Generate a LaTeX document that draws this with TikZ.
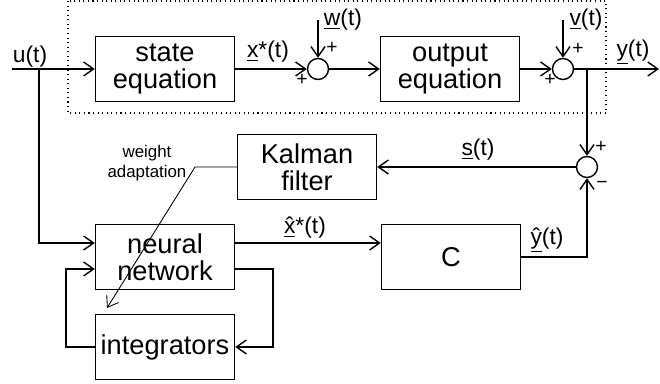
\documentclass[tikz,border=0pt]{standalone}
\usepackage{fontspec}
\setmainfont{Liberation Sans}
\usetikzlibrary{arrows.meta}

\begin{document}
\begin{tikzpicture}[x=0.02cm, y=-0.02cm, line width=0.8pt,
		>={Straight Barb[length=0.2cm,width=0.28cm]},
		block/.style={draw, minimum width=2.78cm, minimum height=1.3cm, inner sep=1pt, align=center, font=\fontsize{15.5}{15.5}\selectfont},
		sum/.style={draw, circle, minimum size=0.42cm, inner sep=0pt},
		lab/.style={font=\fontsize{13}{15}\selectfont, inner sep=1pt},
		sgn/.style={font=\fontsize{11}{11}\selectfont, inner sep=0pt}]
			\useasboundingbox (0,0) rectangle (660,384);

			% plant
			\draw[dotted, line width=0.6pt] (68,1) rectangle (606,113);

			% blocks
			\node[block] (state) at (165,69) {state\\equation};
			\node[block] (output) at (450,69) {output\\equation};
			\node[block] (kalman) at (307,167) {Kalman\\filter};
			\node[block] (neural) at (165,257) {neural\\network};
			\node[block] (C) at (451,257) {C};
			\node[block] (integ) at (165,347) {integrators};

			% sums
			\node[sum] (sum1) at (318,69) {};
			\node[sum] (sum2) at (563,69) {};
			\node[sum] (sum3) at (587,167) {};

			% free ends
			\coordinate (uin) at (12,69);
			\coordinate (ubr) at (39,69);
			\coordinate (win) at (318,20);
			\coordinate (vin) at (563,20);
			\coordinate (yout) at (659,69);
			\coordinate (wbend) at (195,167);
			\coordinate (wtip) at (107,308);

			% signals
			\draw[->] (uin) -- (state.west);
			\draw[->] (ubr) |- ([yshift=0.28cm]neural.west);
			\draw[->] (state.east) -- (sum1.west);
			\draw[->] (win) -- (sum1.north);
			\draw[->] (sum1.east) -- (output.west);
			\draw[->] (output.east) -- (sum2.west);
			\draw[->] (vin) -- (sum2.north);
			\draw[->] (sum2.east) -- (yout);
			\draw[->] (sum3.north |- sum2.east) -- (sum3.north);
			\draw[->] (C.east) -| (sum3.south);
			\draw[->] (sum3.west) -- (kalman.east);
			\draw[->] ([yshift=0.28cm]neural.east) -- ([yshift=0.28cm]C.west);
			\draw[->] ([yshift=-0.24cm]neural.east) -- ++(38,0) |- (integ.east);
			\draw[->] (integ.west) -- ++(-29,0) |- ([yshift=-0.24cm]neural.west);
			\draw[->, line width=0.5pt] (kalman.west) -- (wbend) -- (wtip); % weight adaptation

			% labels
			\node[lab] (u) at (30,57) {u(t)};
			\node[lab] (xs) at (268,52) {\underline{x}*(t)};
			\node[lab] (w) at (343,20) {\underline{w}(t)};
			\node[lab] (v) at (586,20) {\underline{v}(t)};
			\node[lab] (y) at (633,52) {\underline{y}(t)};
			\node[lab] (s) at (478,150) {\underline{s}(t)};
			\node[lab] (xh) at (305,228) {\underline{\^{x}}*(t)};
			\node[lab] (yh) at (547,240) {\underline{\^{y}}(t)};
			\node[font=\fontsize{9.6}{11.3}\selectfont, align=center] (wa) at (147,163) {weight\\adaptation};

			% signs
			\node[sgn] at (332,48) {+};
			\node[sgn] at (302,80) {+};
			\node[sgn] at (578,49) {+};
			\node[sgn] at (550,80) {+};
			\node[sgn] at (601,147) {+};
			\node[sgn] at (602,185) {−};
		\end{tikzpicture}
\end{document}
